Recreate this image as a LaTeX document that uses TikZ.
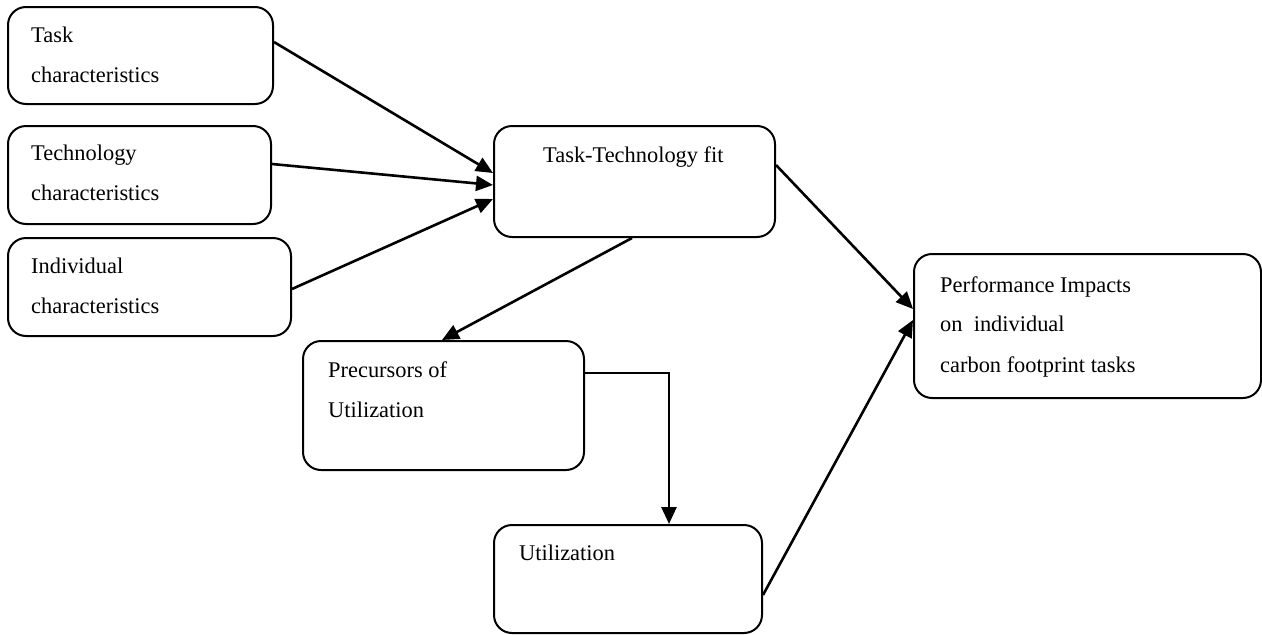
\documentclass[tikz,border=0pt]{standalone}
\usepackage{fontspec}
\setmainfont{Liberation Serif}
\usetikzlibrary{arrows.meta,calc}
\begin{document}
\begin{tikzpicture}[x=1pt,y=-1pt,
  box/.style 2 args={draw,line width=2pt,rounded corners=18pt,anchor=north west,
    inner sep=0pt,minimum width=#1,minimum height=#2},
  lbl/.style={anchor=base west,inner sep=0pt,font=\fontsize{22.4}{27}\selectfont},
  link/.style={line width=2.6pt,-{Triangle[length=17pt,width=15pt]}}]
\useasboundingbox (0,0) rectangle (1262,635);

% boxes
\node[box={265}{97}]  (task)  at (7,6)     {};
\node[box={263}{98}]  (tech)  at (7,125)   {};
\node[box={283}{98}]  (indiv) at (7,237)   {};
\node[box={281}{111}] (ttf)   at (493,125) {};
\node[box={347}{144}] (perf)  at (913,253) {};
\node[box={281}{129}] (prec)  at (302,340) {};
\node[box={268}{108}] (util)  at (493,524) {};

% labels
\node[lbl] (taskA)  at (31,42)  {Task};
\node[lbl] (taskB)  at (31,82)  {characteristics};
\node[lbl] (techA)  at (31,160) {Technology};
\node[lbl] (techB)  at (31,200) {characteristics};
\node[lbl] (indivA) at (31,273) {Individual};
\node[lbl] (indivB) at (31,313) {characteristics};
\node[lbl] (ttfA)   at (543,162) {Task-Technology fit};
\node[lbl] (perfA)  at (940,292) {Performance Impacts};
\node[lbl] (perfB)  at (940,331) {on\ \ individual};
\node[lbl] (perfC)  at (940,372) {carbon footprint tasks};
\node[lbl] (precA)  at (328,377) {Precursors of};
\node[lbl] (precB)  at (328,417) {Utilization};
\node[lbl] (utilA)  at (519,560) {Utilization};

% connectors
\draw[link] ($(task.north east)+(0,36)$)  -- ($(ttf.north west)+(0,48)$);
\draw[link] ($(tech.north east)+(0,39)$)  -- ($(ttf.north west)+(0,60)$);
\draw[link] ($(indiv.north east)+(0,52)$) -- ($(ttf.north west)+(0,74)$);
\draw[link] ($(ttf.south west)+(139,0)$)  -- ($(prec.north west)+(140,0)$);
\draw[link] ($(prec.north east)+(0,33)$)  -| ($(util.north west)+(176,0)$);
\draw[link] ($(ttf.north east)+(0,40)$)   -- ($(perf.north west)+(0,56)$);
\draw[link] ($(util.north east)+(0,71)$)  -- ($(perf.north west)+(0,67)$);
\end{tikzpicture}
\end{document}
